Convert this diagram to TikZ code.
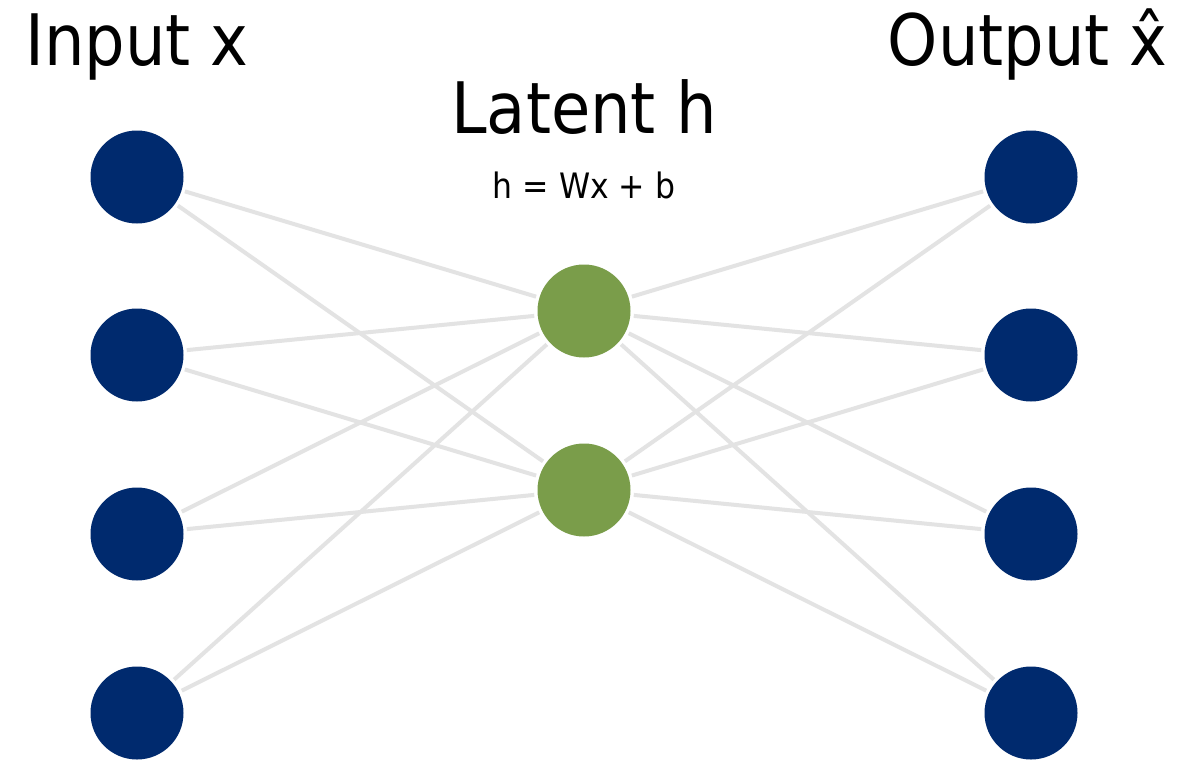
\documentclass[tikz,border=0pt]{standalone}
\usepackage{fontspec}
\setmainfont{DejaVu Sans}[FakeStretch=0.9]
\definecolor{unitblue}{HTML}{002A6E}
\definecolor{unitgreen}{HTML}{7A9D4A}
\definecolor{wire}{HTML}{E3E3E3}
\begin{document}
\begin{tikzpicture}[x=1pt,y=-1pt,
  unit/.style={circle,minimum size=93pt,inner sep=0pt,outer sep=3.5pt},
  io/.style={unit,fill=unitblue},
  hid/.style={unit,fill=unitgreen},
  wirestyle/.style={draw=wire,line width=4pt},
  title/.style={font=\fontsize{71}{71}\selectfont,inner sep=0pt}]
\fill[white] (0,0) rectangle (1201,761);
\useasboundingbox (0,0) rectangle (1201,761);

% input layer
\node[io] (i1) at (137,177) {};
\node[io] (i2) at (137,355) {};
\node[io] (i3) at (137,534) {};
\node[io] (i4) at (137,713) {};
% latent layer
\node[hid] (h1) at (584,311) {};
\node[hid] (h2) at (584,490) {};
% output layer
\node[io] (o1) at (1031,177) {};
\node[io] (o2) at (1031,355) {};
\node[io] (o3) at (1031,534) {};
\node[io] (o4) at (1031,713) {};

% connections
\foreach \a in {i1,i2,i3,i4}
  \foreach \b in {h1,h2}
    \draw[wirestyle] (\a) -- (\b);
\foreach \a in {h1,h2}
  \foreach \b in {o1,o2,o3,o4}
    \draw[wirestyle] (\a) -- (\b);

% labels
\node[title,anchor=base west] (tin) at (25,65) {Input x};
\node[title,anchor=base] (tlat) at (584,133) {Latent h};
\node[title,anchor=base east] (tout) at (1168,65) {Output x̂};
\node[font=\fontsize{35}{35}\selectfont,inner sep=0pt,anchor=base] (eq) at (584,198) {h = Wx + b};
\end{tikzpicture}
\end{document}
